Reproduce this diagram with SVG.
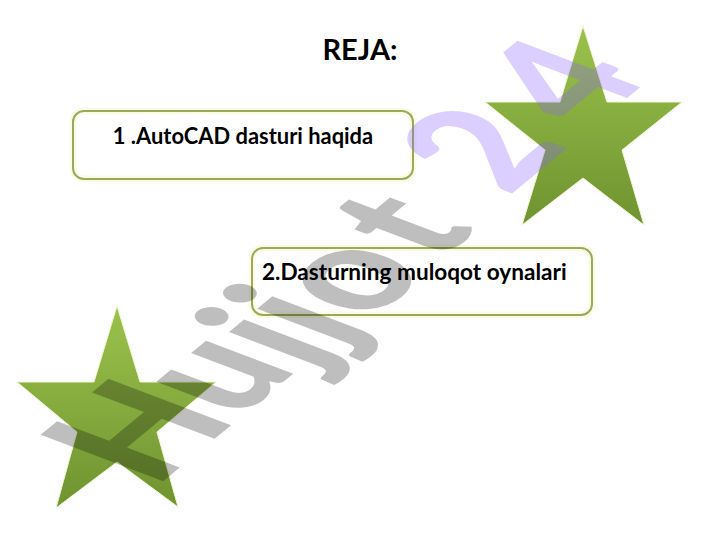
<svg xmlns="http://www.w3.org/2000/svg" width="720" height="540" viewBox="0 0 720 540">
<style>
.box{fill:none;stroke:#9aa95c;stroke-width:2}
.glow{fill:none;stroke:#fbfbe6;stroke-width:7}
.lbl{font-family:Lato,"Liberation Sans",sans-serif;font-weight:700;fill:#000}
.wm{font-family:Lato,"Liberation Sans",Arial,sans-serif;font-weight:900;font-size:100px}
.star{stroke:#f3f6d4;stroke-width:1}
</style>
<defs>
<linearGradient id="g1" x1="0" y1="0" x2="0" y2="1"><stop offset="0" stop-color="#9cc24c"/><stop offset="1" stop-color="#6e9330"/></linearGradient>
</defs>
<rect width="720" height="540" fill="#fff"/>
<g id="star-top"><polygon class="star" fill="url(#g1)" points="583,26 607,102 682,102 622,150 644,225 583,178 522,225 545,150 485,102 560,102"/></g>
<g id="star-bottom"><polygon class="star" fill="url(#g1)" points="117,306 140,382 216,382 157,432 178,507 117,462 56,508 77,432 17,382 94,382"/></g>
<g id="title"><text class="lbl" x="360" y="60" text-anchor="middle" font-size="29">REJA:</text></g>
<g id="box-1"><rect class="glow" x="73" y="111" width="340" height="68" rx="11"/><rect class="box" x="73" y="111" width="340" height="68" rx="11"/><text class="lbl" x="243" y="144" text-anchor="middle" font-size="21.9">1 .AutoCAD dasturi haqida</text></g>
<g id="box-2"><rect class="glow" x="252" y="248" width="340" height="67" rx="11"/><rect class="box" x="252" y="248" width="340" height="67" rx="11"/><text class="lbl" x="262" y="280" font-size="22.6">2.Dasturning muloqot oynalari</text></g>
<g id="watermark" transform="matrix(1.09 -0.9 1.69 0.64 155 488)">
<text class="wm" x="0 76 134 160 188 253" y="0 0 5 5 5.4 3.9" fill="#000" opacity="0.25">Hujjot</text>
<text class="wm" x="324 398" y="0" fill="#8a62ff" opacity="0.3">24</text>
</g>
</svg>
